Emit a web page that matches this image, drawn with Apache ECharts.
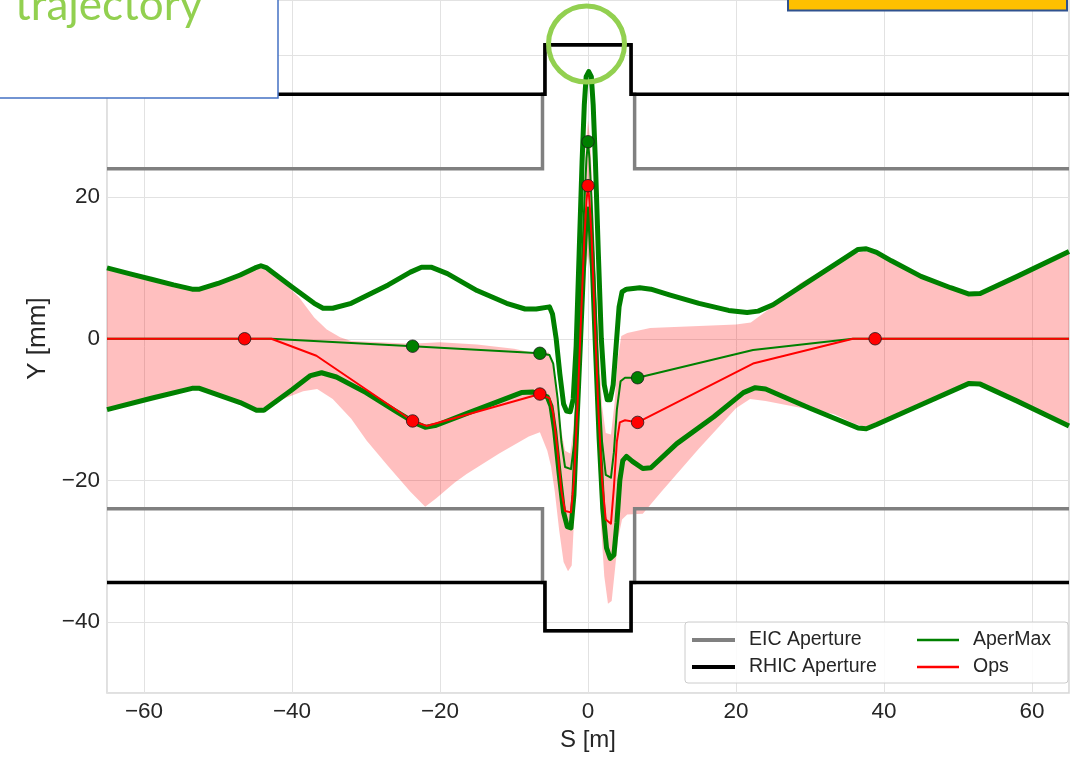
<!DOCTYPE html>
<html><head><meta charset="utf-8">
<script src="https://cdn.jsdelivr.net/npm/echarts@6/dist/echarts.min.js"></script>
<style>html,body{margin:0;padding:0;background:#fff}#c{width:1076px;height:757px}</style>
</head><body><div id="c"></div>
<script>
// ---- data (S [m], Y [mm]) ----
const eicTop = [[-65,24],[-6.15,24],[-6.15,34.5],[-5.82,34.5],[-5.82,41.4],[5.82,41.4],[5.82,34.5],[6.3,34.5],[6.3,24],[65,24]];
const eicBottom = [[-65,-24],[-6.15,-24],[-6.15,-34.4],[-5.82,-34.4],[-5.82,-41.2],[5.82,-41.2],[5.82,-34.4],[6.3,-34.4],[6.3,-24],[65,-24]];
const rhicTop = [[-65,34.5],[-5.82,34.5],[-5.82,41.5],[5.82,41.5],[5.82,34.5],[65,34.5]];
const rhicBottom = [[-65,-34.4],[-5.82,-34.4],[-5.82,-41.2],[5.82,-41.2],[5.82,-34.4],[65,-34.4]];

const aperMaxUpper = [[-65,10.0],[-62,9.2],[-59,8.4],[-56,7.6],[-53.5,7.0],[-52.5,7.0],[-50,7.8],[-47,9.0],[-45,10.0],[-44.2,10.3],[-43.4,10.0],[-40,7.3],[-37,5.0],[-35.8,4.3],[-34.5,4.3],[-32,5.0],[-27,7.6],[-24,9.4],[-22.5,10.1],[-21.2,10.1],[-19,9.2],[-15,6.8],[-11,5.0],[-8.5,4.2],[-7,4.2],[-5.2,4.5],[-4.8,3.5],[-4.3,0],[-3.8,-5],[-3.3,-9.2],[-2.9,-10.2],[-2.4,-10.3],[-2.0,-8.5],[-1.6,-1],[-1.2,12],[-0.8,25],[-0.5,33],[-0.25,37],[0.1,37.7],[0.45,37],[0.7,33],[1.0,25],[1.4,12],[1.8,0],[2.2,-6.5],[2.6,-8.6],[3.0,-8.6],[3.4,-6.5],[3.8,-1],[4.2,4.5],[4.6,6.6],[5.2,7.0],[7.0,7.2],[8.5,7.0],[11,6.2],[15,5.0],[19,4.0],[21.5,3.7],[23,3.9],[25,4.8],[30,8.2],[35,11.6],[36.5,12.6],[37.6,12.7],[39,12.2],[41,11.0],[45,8.8],[49,7.2],[51.5,6.3],[53,6.4],[58,8.8],[65,12.3]];
const aperMaxLower = [[-65,-10.0],[-59,-8.4],[-53.5,-7.0],[-52.5,-7.0],[-47,-9.0],[-44.8,-10.1],[-43.8,-10.1],[-40,-7.2],[-37.5,-5.2],[-36,-4.8],[-34,-5.4],[-30,-7.6],[-26,-10.2],[-23.5,-11.8],[-22,-12.5],[-20.5,-12.2],[-16,-10.4],[-12,-8.8],[-9,-7.6],[-7.5,-7.5],[-5.5,-8.2],[-5.0,-9.5],[-4.5,-13],[-3.9,-19],[-3.3,-24.5],[-2.8,-26.5],[-2.3,-26.7],[-1.9,-22],[-1.5,-12],[-1.0,0],[-0.6,10],[-0.3,16],[0,18.3],[0.3,16],[0.6,10],[1.0,-1],[1.5,-14],[2.0,-24],[2.5,-29.5],[3.0,-31.0],[3.5,-30.5],[3.9,-26],[4.3,-20],[4.7,-17.2],[5.2,-16.6],[6.0,-17.3],[7.4,-18.3],[8.5,-18.2],[12,-14.8],[17,-11],[21,-7.6],[22.6,-6.9],[24,-7.1],[30,-9.8],[36.5,-12.6],[37.6,-12.7],[39,-12.1],[45,-9.3],[51.5,-6.3],[53,-6.4],[58,-8.8],[65,-12.3]];
const aperMaxOrbit = [[-65,0],[-42.8,0],[-23.7,-1.05],[-6.5,-2.05],[-5.2,-2.3],[-4.7,-3.5],[-4.1,-8.5],[-3.6,-14.5],[-3.1,-18.1],[-2.3,-18.4],[-1.9,-15],[-1.4,-5],[-0.9,8],[-0.5,19],[-0.2,25.5],[0,27.8],[0.2,25.5],[0.5,19],[0.9,8],[1.4,-5],[1.9,-14.5],[2.4,-19.2],[3.1,-19.6],[3.5,-16],[3.9,-10],[4.4,-6.0],[5.0,-5.5],[6.7,-5.5],[22.3,-1.6],[35.8,0],[65,0]];
const opsOrbit = [[-65,0],[-42.8,0],[-36.7,-2.4],[-23.7,-11.6],[-21.8,-12.3],[-6.5,-7.8],[-5.2,-8.4],[-4.7,-10.5],[-4.1,-16],[-3.6,-21.5],[-3.1,-24.3],[-2.3,-24.5],[-1.9,-20],[-1.4,-9],[-0.9,4],[-0.5,14],[-0.2,19.5],[0,21.6],[0.2,19.5],[0.5,14],[0.9,3],[1.4,-10],[1.9,-20],[2.4,-25.5],[3.1,-26.1],[3.5,-21],[3.9,-14.5],[4.3,-11.8],[5.0,-11.5],[6.7,-11.8],[22.3,-3.5],[35.8,0],[65,0]];
const opsMarkers = [[-46.4,0],[-23.7,-11.6],[-6.5,-7.8],[0,21.6],[6.7,-11.8],[38.8,0]];
const aperMaxMarkers = [[-23.7,-1.05],[-6.5,-2.05],[0,27.8],[6.7,-5.5]];
const opsBandUpper = [[-65,9.7],[-59,8.2],[-53.5,6.8],[-52.5,6.8],[-47,8.8],[-45,9.8],[-44.2,10.0],[-43,9.4],[-41,7.8],[-39,5.8],[-37,3.0],[-35.3,1.3],[-33.5,0.2],[-32,-0.3],[-28,-0.5],[-24,-0.7],[-20,-0.5],[-15,-0.8],[-10,-1.4],[-6.5,-2.2],[-5.3,-1.9],[-4.8,-3.5],[-4.2,-8],[-3.6,-13],[-3.1,-15.8],[-2.4,-16.2],[-2.0,-13],[-1.5,-3],[-1.0,9],[-0.6,20],[-0.3,27],[0,30.8],[0.3,28],[0.6,21],[1.0,10],[1.5,-2],[1.9,-9.5],[2.4,-13.3],[3.1,-13.5],[3.6,-9],[4.0,-3],[4.5,0.4],[5.3,0.8],[7,1.2],[8.4,1.5],[10,1.6],[15,1.8],[20,2.0],[22,2.3],[25,4.6],[28.6,7.8],[33.2,10.6],[36,12.0],[37.4,12.4],[39,11.9],[45,9.0],[50,6.7],[51.5,6.0],[53,6.1],[58,8.5],[65,12.0]];
const opsBandLower = [[-65,-9.7],[-59,-8.2],[-53.5,-6.8],[-52.5,-6.8],[-47,-8.8],[-44.5,-9.9],[-43,-9.4],[-40.7,-8.3],[-38.5,-7.4],[-36.6,-7.1],[-34.5,-8.5],[-32,-11.3],[-29.9,-14.4],[-27,-18],[-24,-21.6],[-22,-23.7],[-20.5,-22.5],[-18,-20.3],[-16.4,-19.1],[-12,-16.2],[-8,-13.8],[-6.5,-13.2],[-5.5,-15.8],[-5.0,-18],[-4.5,-21.5],[-3.9,-27],[-3.3,-31.5],[-2.7,-32.8],[-2.2,-32],[-1.8,-24],[-1.4,-14],[-1.0,-4],[-0.6,4.5],[-0.3,10],[0,11.8],[0.3,10],[0.6,4],[1.0,-6],[1.4,-17],[1.8,-27],[2.2,-33.5],[2.7,-37.4],[3.2,-37],[3.7,-32],[4.1,-28],[4.6,-25.5],[5.3,-24.8],[7.4,-24.7],[10,-21.5],[15,-15.5],[20,-9.8],[21.9,-8.5],[24,-8.8],[28,-9.6],[33.2,-10.6],[36,-12.0],[37.4,-12.4],[39,-11.9],[45,-9.0],[50,-6.7],[51.5,-6.0],[53,-6.1],[58,-8.5],[65,-12.0]];
const legendCol1 = ['EIC Aperture','RHIC Aperture'];
const legendCol2 = ['AperMax','Ops'];
const calloutText = 'trajectory';

// ---- chart ----
const FONT = '"Liberation Sans", Arial, Helvetica, sans-serif';
const minus = v => (v < 0 ? '\u2212' + (-v) : String(v));
const chart = echarts.init(document.getElementById('c'), null, {renderer: 'canvas'});

function lineSeries(name, data, color, width, z, join) {
  return {
    type: 'line', name, data, color, z,
    showSymbol: false, symbol: 'none', smooth: false, animation: false,
    lineStyle: {color, width, join: join || 'round', cap: 'butt'},
    emphasis: {disabled: true}, silent: true, clip: true
  };
}

const option = {
  animation: false,
  grid: {left: 107, right: 7, top: 0, bottom: 63, show: true, borderColor: '#d6d6d6', borderWidth: 1.5, backgroundColor: 'transparent'},
  xAxis: {
    type: 'value', min: -65, max: 65, minInterval: 20, maxInterval: 20,
    name: 'S [m]', nameLocation: 'middle', nameGap: 32,
    nameTextStyle: {fontFamily: FONT, fontSize: 24, color: '#262626'},
    axisLine: {show: false}, axisTick: {show: false},
    axisLabel: {fontFamily: FONT, fontSize: 22.5, color: '#262626', margin: 7, formatter: minus, showMinLabel: false, showMaxLabel: false},
    splitLine: {show: true, lineStyle: {color: '#e2e2e2', width: 1}}
  },
  yAxis: {
    type: 'value', min: -50, max: 47.8, minInterval: 20, maxInterval: 20,
    name: 'Y [mm]', nameLocation: 'middle', nameGap: 53, nameRotate: 90,
    nameTextStyle: {fontFamily: FONT, fontSize: 26, color: '#262626', padding: [0, 0, 0, 16]},
    axisLine: {show: false}, axisTick: {show: false},
    axisLabel: {fontFamily: FONT, fontSize: 22.5, color: '#262626', margin: 7, formatter: minus, showMinLabel: false, showMaxLabel: false},
    splitLine: {show: true, lineStyle: {color: '#e2e2e2', width: 1}}
  },
  legend: [
    {data: legendCol1, orient: 'vertical', left: 692, top: 630, itemWidth: 43, itemHeight: 4, itemGap: 7, icon: 'rect', padding: 0, selectedMode: false,
     textStyle: {fontFamily: FONT, fontSize: 19.5, color: '#262626', padding: [0, 0, 0, 9]}},
    {data: legendCol2, orient: 'vertical', left: 917, top: 630, itemWidth: 42, itemHeight: 2.5, itemGap: 7, icon: 'rect', padding: 0, selectedMode: false,
     textStyle: {fontFamily: FONT, fontSize: 19.5, color: '#262626', padding: [0, 0, 0, 9]}}
  ],
  graphic: [
    {type: 'rect', z: 3, shape: {x: 685, y: 622, width: 383, height: 61, r: 3}, style: {fill: 'rgba(255,255,255,0.85)', stroke: '#cccccc', lineWidth: 1}, silent: true},
    {type: 'rect', z: 20, shape: {x: -2, y: -3, width: 280, height: 101}, style: {fill: '#ffffff', stroke: '#4472C4', lineWidth: 1.5}, silent: true},
    {type: 'text', z: 21, style: {x: 15, y: 6, text: calloutText, font: '44px Lato, "Open Sans", sans-serif', fill: '#92D050', verticalAlign: 'middle'}, silent: true},
    {type: 'rect', z: 20, shape: {x: 788, y: -4, width: 279, height: 14.5}, style: {fill: '#FFC000', stroke: '#2F528F', lineWidth: 2}, silent: true},
    {type: 'circle', z: 20, shape: {cx: 586.5, cy: 44, r: 38}, style: {fill: 'none', stroke: '#92D050', lineWidth: 5}, silent: true}
  ],
  series: [
    {
      type: 'custom', name: 'band', z: 1, silent: true, clip: true,
      data: [[0, 0]],
      renderItem: function (params, api) {
        const pts = opsBandUpper.map(p => api.coord(p)).concat(opsBandLower.slice().reverse().map(p => api.coord(p)));
        return {type: 'polygon', shape: {points: pts}, style: {fill: 'rgba(255,0,0,0.25)', stroke: 'none'}};
      }
    },
    lineSeries('EIC Aperture', eicTop, '#808080', 3.5, 2, 'miter'),
    lineSeries('EIC Aperture', eicBottom, '#808080', 3.5, 2, 'miter'),
    lineSeries('RHIC Aperture', rhicTop, '#000000', 3.5, 3, 'miter'),
    lineSeries('RHIC Aperture', rhicBottom, '#000000', 3.5, 3, 'miter'),
    lineSeries('AperMax', aperMaxUpper, '#008000', 5, 4),
    lineSeries('AperMax', aperMaxLower, '#008000', 5, 4),
    lineSeries('AperMax', aperMaxOrbit, '#008000', 2, 5),
    lineSeries('Ops', opsOrbit, '#ff0000', 2, 6),
    {type: 'scatter', name: 'AperMax', data: aperMaxMarkers, z: 7, symbolSize: 12.5, color: '#008000', animation: false, silent: true,
     itemStyle: {color: '#008000', borderColor: '#1a1a1a', borderWidth: 0.8, opacity: 1}},
    {type: 'scatter', name: 'Ops', data: opsMarkers, z: 8, symbolSize: 12.5, color: '#ff0000', animation: false, silent: true,
     itemStyle: {color: '#ff0000', borderColor: '#1a1a1a', borderWidth: 0.8, opacity: 1}}
  ]
};
chart.setOption(option);
</script>
</body></html>
